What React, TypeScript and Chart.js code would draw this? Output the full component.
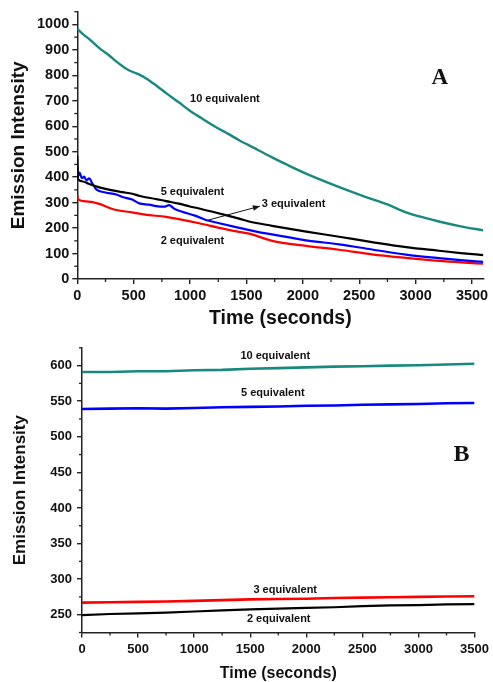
import React, { useEffect, useRef } from 'react';
import { Chart, registerables } from 'chart.js';

Chart.register(...registerables);

const SANS = '"Liberation Sans", Arial, Helvetica, sans-serif';
const SERIF = '"Liberation Serif", "Times New Roman", serif';

// ---------- Panel A data: [time (s), emission intensity] ----------
const tealA: number[][] = [[0,983],[50,962],[106,942],[200,905],[283,878],[350,853],[434,826],[487,814],[550,803],[611,788],[700,760],[788,730],[900,694],[992,663],[1100,632],[1231,596],[1350,567],[1435,545],[1523,525],[1727,478],[1850,451],[2028,414],[2300,365],[2560,322],[2750,293],[2914,262],[3100,238],[3206,226],[3400,207],[3600,191]];
const blackA: number[][] = [[0,484],[6,392],[50,383],[100,374],[195,360],[300,349],[400,341],[487,335],[556,326],[700,314],[788,306],[900,296],[998,285],[1080,277],[1200,264],[1316,251],[1435,237],[1523,226],[1727,209],[2030,186],[2321,166],[2613,145],[2914,125],[3206,111],[3400,102],[3600,94]];
const blueA: number[][] = [[0,438],[4,402],[20,418],[40,396],[60,402],[80,388],[106,395],[130,378],[168,352],[250,340],[345,332],[400,322],[487,312],[549,297],[638,292],[700,286],[770,284],[814,290],[860,276],[930,264],[1050,248],[1139,232],[1231,222],[1435,201],[1588,186],[1727,175],[2028,152],[2321,136],[2613,116],[2914,96],[3206,82],[3400,74],[3600,67]];
const redA: number[][] = [[0,328],[10,312],[80,305],[195,295],[280,280],[345,271],[487,262],[600,253],[788,244],[900,235],[1080,219],[1230,204],[1373,190],[1523,178],[1727,150],[2028,130],[2321,115],[2613,97],[2914,83],[3206,71],[3400,65],[3600,60]];

const xTicksA = [0, 500, 1000, 1500, 2000, 2500, 3000, 3500];
const xMinorA = [250, 750, 1250, 1750, 2250, 2750, 3250];
const yTicksA = [0, 100, 200, 300, 400, 500, 600, 700, 800, 900, 1000];
const yMinorA = [50, 150, 250, 350, 450, 550, 650, 750, 850, 950, 1050];

// ---------- Panel B data ----------
const timeB = [0, 250, 500, 750, 1000, 1250, 1500, 1750, 2000, 2250, 2500, 2750, 3000, 3250, 3500];
const tealB = [591, 591, 592, 592, 593.5, 594, 595.5, 596.5, 597.5, 598.5, 599, 600, 600.5, 601.5, 602.5];
const blueB = [539, 539.5, 540, 539.5, 540.5, 541.5, 542, 542.5, 543.5, 544, 545, 545.5, 546, 547, 547.5];
const redB = [267, 267.5, 268, 268.5, 269.5, 270.5, 271.5, 272, 272.5, 273.5, 274, 274.5, 275, 275.5, 276];
const blackB = [249.5, 251, 252, 253, 254.5, 256, 257.5, 258.5, 259.5, 260.5, 262, 263, 263.5, 264.5, 265];

const xTicksB = [0, 500, 1000, 1500, 2000, 2500, 3000, 3500];
const xMinorB = [250, 750, 1250, 1750, 2250, 2750, 3250];
const yTicksB = [250, 300, 350, 400, 450, 500, 550, 600];
const yMinorB = [225, 275, 325, 375, 425, 475, 525, 575, 625];

const TEAL = '#17897f';
const AXIS = '#222';

const notesPlugin = {
  id: 'notes',
  afterDraw(chart: any, _args: any, opts: any) {
    const ctx = chart.ctx;
    const xs = chart.scales.x;
    const ys = chart.scales.y;
    const ca = chart.chartArea;
    ctx.save();
    ctx.strokeStyle = AXIS;
    ctx.lineWidth = 1.3;
    (opts.xMinor || []).forEach((v: number) => {
      const px = xs.getPixelForValue(v);
      ctx.beginPath();
      ctx.moveTo(px, ca.bottom);
      ctx.lineTo(px, ca.bottom + opts.minorLen);
      ctx.stroke();
    });
    (opts.yMinor || []).forEach((v: number) => {
      const py = ys.getPixelForValue(v);
      ctx.beginPath();
      ctx.moveTo(ca.left, py);
      ctx.lineTo(ca.left - opts.minorLen, py);
      ctx.stroke();
    });
    (opts.arrows || []).forEach((a: any) => {
      const x1 = xs.getPixelForValue(a.from[0]);
      const y1 = ys.getPixelForValue(a.from[1]);
      const x2 = xs.getPixelForValue(a.to[0]);
      const y2 = ys.getPixelForValue(a.to[1]);
      ctx.strokeStyle = '#111';
      ctx.fillStyle = '#111';
      ctx.lineWidth = 1;
      ctx.beginPath();
      ctx.moveTo(x1, y1);
      ctx.lineTo(x2, y2);
      ctx.stroke();
      const ang = Math.atan2(y2 - y1, x2 - x1);
      const L = 7, W = 2.8;
      ctx.beginPath();
      ctx.moveTo(x2, y2);
      ctx.lineTo(x2 - L * Math.cos(ang) + W * Math.sin(ang), y2 - L * Math.sin(ang) - W * Math.cos(ang));
      ctx.lineTo(x2 - L * Math.cos(ang) - W * Math.sin(ang), y2 - L * Math.sin(ang) + W * Math.cos(ang));
      ctx.closePath();
      ctx.fill();
    });
    (opts.texts || []).forEach((t: any) => {
      ctx.font = t.font;
      ctx.fillStyle = t.color || '#111';
      ctx.textAlign = t.align || 'center';
      ctx.textBaseline = 'middle';
      ctx.fillText(t.text, xs.getPixelForValue(t.x), ys.getPixelForValue(t.y));
    });
    ctx.restore();
  },
};

function axisBase(tickSize: number, tickPad: number) {
  return {
    type: 'linear' as const,
    grid: { display: true, drawOnChartArea: false, drawTicks: true, tickLength: 5, color: AXIS, lineWidth: 1.4 },
    border: { display: true, color: AXIS, width: 1.5 },
    ticks: {
      font: { family: SANS, size: tickSize, weight: 'bold' as const },
      color: '#111',
      padding: tickPad,
      maxRotation: 0,
      autoSkip: false,
      callback: (v: any) => String(v),
    },
  };
}

function lineDs(label: string, data: any[], color: string, width: number, smooth: boolean) {
  return {
    label,
    data,
    borderColor: color,
    backgroundColor: color,
    borderWidth: width,
    pointRadius: 0,
    fill: false,
    cubicInterpolationMode: smooth ? ('monotone' as const) : ('default' as const),
    tension: 0,
  };
}

const pairs = (arr: number[][]) => arr.map(([x, y]) => ({ x, y }));
const zipB = (vals: number[]) => vals.map((y, i) => ({ x: timeB[i], y }));

function configA(): any {
  const bx = axisBase(14.5, 3);
  const by = axisBase(14.5, 3);
  return {
    type: 'line',
    data: {
      datasets: [
        lineDs('10 equivalent', pairs(tealA), TEAL, 2.4, true),
        lineDs('5 equivalent', pairs(blackA), '#000000', 2.2, true),
        lineDs('3 equivalent', pairs(blueA), '#0000ff', 2.2, true),
        lineDs('2 equivalent', pairs(redA), '#ff0000', 2.2, true),
      ],
    },
    options: {
      responsive: false,
      animation: false,
      layout: { padding: { top: 11, right: 9.7, left: 0, bottom: 0 } },
      plugins: {
        legend: { display: false },
        tooltip: { enabled: false },
        notes: {
          minorLen: 3,
          xMinor: xMinorA,
          yMinor: yMinorA,
          arrows: [{ from: [1158, 231], to: [1619, 286] }],
          texts: [
            { text: '10 equivalent', x: 1309, y: 706, font: `bold 11px ${SANS}` },
            { text: '5 equivalent', x: 1021, y: 341, font: `bold 11px ${SANS}` },
            { text: '3 equivalent', x: 1636, y: 294, font: `bold 11px ${SANS}`, align: 'left' },
            { text: '2 equivalent', x: 1021, y: 149, font: `bold 11px ${SANS}` },
            { text: 'A', x: 3214, y: 788, font: `bold 23px ${SERIF}` },
          ],
        },
      },
      scales: {
        x: {
          ...bx,
          min: 0,
          max: 3600,
          afterBuildTicks: (s: any) => { s.ticks = xTicksA.map((v) => ({ value: v })); },
          afterFit: (s: any) => { s.height = 56; },
          title: { display: true, text: 'Time (seconds)', color: '#111', font: { family: SANS, size: 19.5, weight: 'bold' }, padding: { top: 0, bottom: 5 } },
        },
        y: {
          ...by,
          min: 0,
          max: 1050,
          afterBuildTicks: (s: any) => { s.ticks = yTicksA.map((v) => ({ value: v })); },
          afterFit: (s: any) => { s.width = 77.3; },
          title: { display: true, text: 'Emission Intensity', color: '#111', font: { family: SANS, size: 19, weight: 'bold' }, padding: { top: 7, bottom: 0 } },
        },
      },
    },
    plugins: [notesPlugin],
  };
}

function configB(): any {
  const bx = axisBase(13, 4);
  const by = axisBase(13, 5);
  return {
    type: 'line',
    data: {
      datasets: [
        lineDs('10 equivalent', zipB(tealB), TEAL, 2.6, false),
        lineDs('5 equivalent', zipB(blueB), '#0000ff', 2.6, false),
        lineDs('3 equivalent', zipB(redB), '#ff0000', 2.6, false),
        lineDs('2 equivalent', zipB(blackB), '#000000', 2.2, false),
      ],
    },
    options: {
      responsive: false,
      animation: false,
      layout: { padding: { top: 12.7, right: 18, left: 0, bottom: 0 } },
      plugins: {
        legend: { display: false },
        tooltip: { enabled: false },
        notes: {
          minorLen: 3,
          xMinor: xMinorB,
          yMinor: yMinorB,
          texts: [
            { text: '10 equivalent', x: 1723, y: 614, font: `bold 11px ${SANS}` },
            { text: '5 equivalent', x: 1701, y: 562, font: `bold 11px ${SANS}` },
            { text: '3 equivalent', x: 1812, y: 285, font: `bold 11px ${SANS}` },
            { text: '2 equivalent', x: 1754, y: 244.4, font: `bold 11px ${SANS}` },
            { text: 'B', x: 3384, y: 475, font: `bold 24px ${SERIF}` },
          ],
        },
      },
      scales: {
        x: {
          ...bx,
          min: 0,
          max: 3500,
          afterBuildTicks: (s: any) => { s.ticks = xTicksB.map((v) => ({ value: v })); },
          afterFit: (s: any) => { s.height = 49.5; },
          title: { display: true, text: 'Time (seconds)', color: '#111', font: { family: SANS, size: 16, weight: 'bold', lineHeight: 1 }, padding: { top: 0, bottom: 0 } },
        },
        y: {
          ...by,
          min: 225,
          max: 625,
          afterBuildTicks: (s: any) => { s.ticks = yTicksB.map((v) => ({ value: v })); },
          afterFit: (s: any) => { s.width = 82; },
          title: { display: true, text: 'Emission Intensity', color: '#111', font: { family: SANS, size: 17, weight: 'bold' }, padding: { top: 10, bottom: 0 } },
        },
      },
    },
    plugins: [notesPlugin],
  };
}

function Panel({ make, top, height }: { make: () => any; top: number; height: number }) {
  const ref = useRef<HTMLCanvasElement | null>(null);
  useEffect(() => {
    if (!ref.current) return;
    const chart = new Chart(ref.current, make());
    return () => chart.destroy();
  }, [make]);
  return (
    <canvas
      ref={ref}
      width={493}
      height={height}
      style={{ position: 'absolute', left: 0, top, width: 493, height, display: 'block' }}
    />
  );
}

export default function App() {
  return (
    <div style={{ position: 'fixed', left: 0, top: 0, width: 493, height: 682, background: '#ffffff', overflow: 'hidden' }}>
      <Panel make={configA} top={0} height={335} />
      <Panel make={configB} top={335} height={347} />
    </div>
  );
}
